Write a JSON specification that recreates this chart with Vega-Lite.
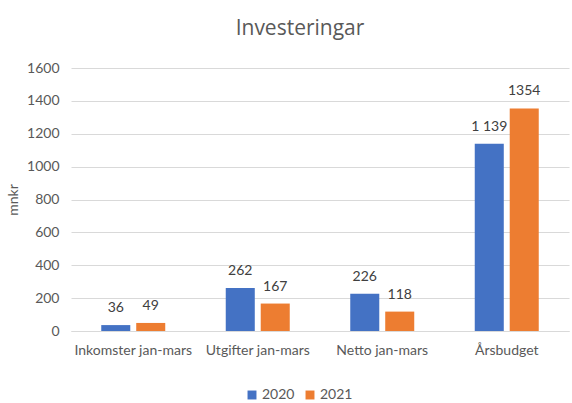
{
  "$schema": "https://vega.github.io/schema/vega-lite/v6.json",
  "width": 498,
  "height": 263,
  "autosize": {"type": "none"},
  "padding": {"left": 71, "top": 68, "right": 3, "bottom": 72},
  "background": "white",
  "config": {
    "font": "Lato",
    "view": {"stroke": null}
  },
  "title": {
    "text": "Investeringar",
    "fontSize": 21,
    "font": "Open Sans",
    "fontWeight": "normal",
    "color": "#595959",
    "anchor": "middle",
    "dx": -20,
    "offset": 22
  },
  "data": {
    "values": [
      {"kategori": "Inkomster jan-mars", "år": "2020", "värde": 36, "etikett": "36"},
      {"kategori": "Inkomster jan-mars", "år": "2021", "värde": 49, "etikett": "49"},
      {"kategori": "Utgifter jan-mars", "år": "2020", "värde": 262, "etikett": "262"},
      {"kategori": "Utgifter jan-mars", "år": "2021", "värde": 167, "etikett": "167"},
      {"kategori": "Netto jan-mars", "år": "2020", "värde": 226, "etikett": "226"},
      {"kategori": "Netto jan-mars", "år": "2021", "värde": 118, "etikett": "118"},
      {"kategori": "Årsbudget", "år": "2020", "värde": 1139, "etikett": "1 139"},
      {"kategori": "Årsbudget", "år": "2021", "värde": 1354, "etikett": "1354"}
    ]
  },
  "encoding": {
    "x": {
      "field": "kategori",
      "type": "nominal",
      "sort": null,
      "scale": {"paddingInner": 0.486, "paddingOuter": 0.243},
      "axis": {
        "title": null,
        "labelAngle": 0,
        "labelFontSize": 14,
        "labelColor": "#595959",
        "labelPadding": 12,
        "domainColor": "#d9d9d9",
        "ticks": false
      }
    },
    "xOffset": {
      "field": "år",
      "type": "nominal",
      "scale": {"paddingInner": 0.17}
    },
    "y": {
      "field": "värde",
      "type": "quantitative",
      "scale": {"domain": [0, 1600]},
      "axis": {
        "title": "mnkr",
        "titleFontSize": 14,
        "titleFontWeight": "normal",
        "titleColor": "#595959",
        "titlePadding": 6,
        "labelFontSize": 14,
        "labelColor": "#595959",
        "labelPadding": 12,
        "values": [0, 200, 400, 600, 800, 1000, 1200, 1400, 1600],
        "domain": false,
        "ticks": false,
        "gridColor": "#d9d9d9",
        "format": "d"
      }
    }
  },
  "layer": [
    {
      "mark": {"type": "bar"},
      "encoding": {
        "color": {
          "field": "år",
          "type": "nominal",
          "scale": {"range": ["#4472C4", "#ED7D31"]},
          "legend": {
            "orient": "none",
            "legendX": 174,
            "legendY": 320,
            "title": null,
            "symbolType": "square",
            "symbolSize": 80,
            "symbolStrokeWidth": 0,
            "labelFontSize": 14,
            "labelColor": "#595959",
            "labelOffset": 3,
            "direction": "horizontal",
            "columnPadding": 8
          }
        }
      }
    },
    {
      "mark": {"type": "text", "baseline": "bottom", "dy": -10, "fontSize": 14, "color": "#404040"},
      "encoding": {
        "text": {"field": "etikett"}
      }
    }
  ]
}
